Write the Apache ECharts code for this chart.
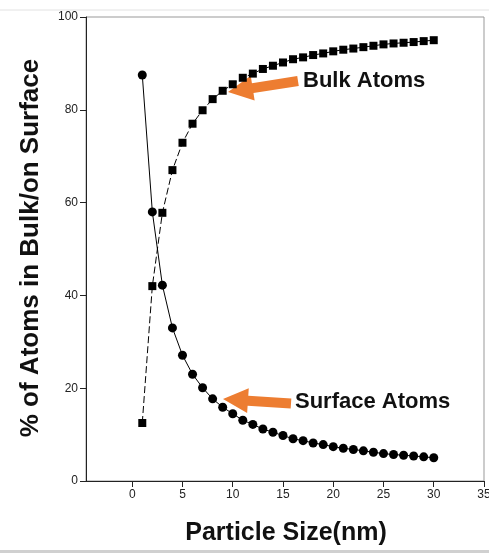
<!DOCTYPE html>
<html>
<head>
<meta charset="utf-8">
<script src="https://cdn.jsdelivr.net/npm/echarts@6/dist/echarts.min.js"></script>
<style>
html,body{margin:0;padding:0;background:#fff;}
#chart{width:489px;height:553px;}
</style>
</head>
<body>
<div id="chart"></div>
<script>
// Particle size (nm)
const particleSize = [1,2,3,4,5,6,7,8,9,10,11,12,13,14,15,16,17,18,19,20,21,22,23,24,25,26,27,28,29,30];
// % of atoms on surface
const surfaceAtoms = [87.5,58.0,42.2,33.0,27.1,23.0,20.1,17.7,15.9,14.5,13.1,12.2,11.2,10.5,9.8,9.1,8.7,8.2,7.85,7.4,7.05,6.8,6.5,6.2,5.9,5.7,5.55,5.4,5.2,5.0];
// % of atoms in bulk
const bulkAtoms = [12.5,42.0,57.8,67.0,72.9,77.0,79.9,82.3,84.1,85.5,86.9,87.8,88.8,89.5,90.2,90.9,91.3,91.8,92.15,92.6,92.95,93.2,93.5,93.8,94.1,94.3,94.45,94.6,94.8,95.0];
// Tick labels
const xTicks = [0,5,10,15,20,25,30,35];
const yTicks = [0,20,40,60,80,100];

const FONT = 'Arial, "Liberation Sans", sans-serif';
const ORANGE = '#ED7D31';

function arrowPoints(tail, tip, sw, hw, hl) {
  const dx = tip[0]-tail[0], dy = tip[1]-tail[1];
  const len = Math.sqrt(dx*dx+dy*dy);
  const ux = dx/len, uy = dy/len;
  const nx = -uy, ny = ux;
  const bx = tip[0]-ux*hl, by = tip[1]-uy*hl;
  return [
    [tail[0]+nx*sw, tail[1]+ny*sw],
    [bx+nx*sw, by+ny*sw],
    [bx+nx*hw, by+ny*hw],
    [tip[0], tip[1]],
    [bx-nx*hw, by-ny*hw],
    [bx-nx*sw, by-ny*sw],
    [tail[0]-nx*sw, tail[1]-ny*sw]
  ];
}

const chart = echarts.init(document.getElementById('chart'), null, {renderer:'canvas'});
chart.setOption({
  animation: false,
  backgroundColor: '#fff',
  grid: {left: 86, right: 5, top: 17, bottom: 72, show: true, borderColor: '#999', borderWidth: 1, containLabel: false, outerBoundsMode: 'none'},
  xAxis: {
    type: 'value', min: -4.6, max: 35,
    axisLine: {show: true, onZero: false, lineStyle: {color: '#222', width: 1}},
    axisTick: {show: true, length: 6, customValues: xTicks, lineStyle: {color: '#222'}},
    axisLabel: {show: true, customValues: xTicks, margin: 8, fontSize: 12, color: '#222', fontFamily: FONT},
    splitLine: {show: false}
  },
  yAxis: {
    type: 'value', min: 0, max: 100, interval: 20,
    axisLine: {show: true, onZero: false, lineStyle: {color: '#222', width: 1}},
    axisTick: {show: true, length: 6, lineStyle: {color: '#222'}},
    axisLabel: {show: true, margin: 8, fontSize: 12, color: '#222', fontFamily: FONT},
    splitLine: {show: false}
  },
  series: [
    {
      name: 'Surface Atoms', type: 'line',
      data: particleSize.map((x,i)=>[x, surfaceAtoms[i]]),
      symbol: 'circle', symbolSize: 9, showAllSymbol: true,
      itemStyle: {color: '#000'},
      lineStyle: {color: '#000', width: 1, type: 'solid'}
    },
    {
      name: 'Bulk Atoms', type: 'line',
      data: particleSize.map((x,i)=>[x, bulkAtoms[i]]),
      symbol: 'rect', symbolSize: 8, showAllSymbol: true,
      itemStyle: {color: '#000'},
      lineStyle: {color: '#000', width: 1, type: [7,3]}
    }
  ],
  graphic: [
    {type:'line', shape:{x1:0,y1:10,x2:489,y2:10}, style:{stroke:'#e2e2e2', lineWidth:1}},
    {type:'rect', shape:{x:0,y:550,width:489,height:3}, style:{fill:'#d0d0d0'}},
    {type:'polygon', shape:{points: arrowPoints([298,81],[228,92],5,12.5,25)}, style:{fill: ORANGE}},
    {type:'polygon', shape:{points: arrowPoints([291,403.5],[223,399],5,12.5,25)}, style:{fill: ORANGE}},
    {type:'text', x:303, y:81, style:{text:'Bulk Atoms', font:'bold 22px ' + FONT, fill:'#111', textVerticalAlign:'middle', textAlign:'left'}},
    {type:'text', x:295, y:402, style:{text:'Surface Atoms', font:'bold 22px ' + FONT, fill:'#111', textVerticalAlign:'middle', textAlign:'left'}},
    {type:'text', x:286, y:533, style:{text:'Particle Size(nm)', font:'bold 25px ' + FONT, fill:'#111', textVerticalAlign:'middle', textAlign:'center'}},
    {type:'text', x:31, y:248, rotation: Math.PI/2, style:{text:'% of Atoms in Bulk/on Surface', font:'bold 26px ' + FONT, fill:'#111', textVerticalAlign:'middle', textAlign:'center'}}
  ]
});
</script>
</body>
</html>
